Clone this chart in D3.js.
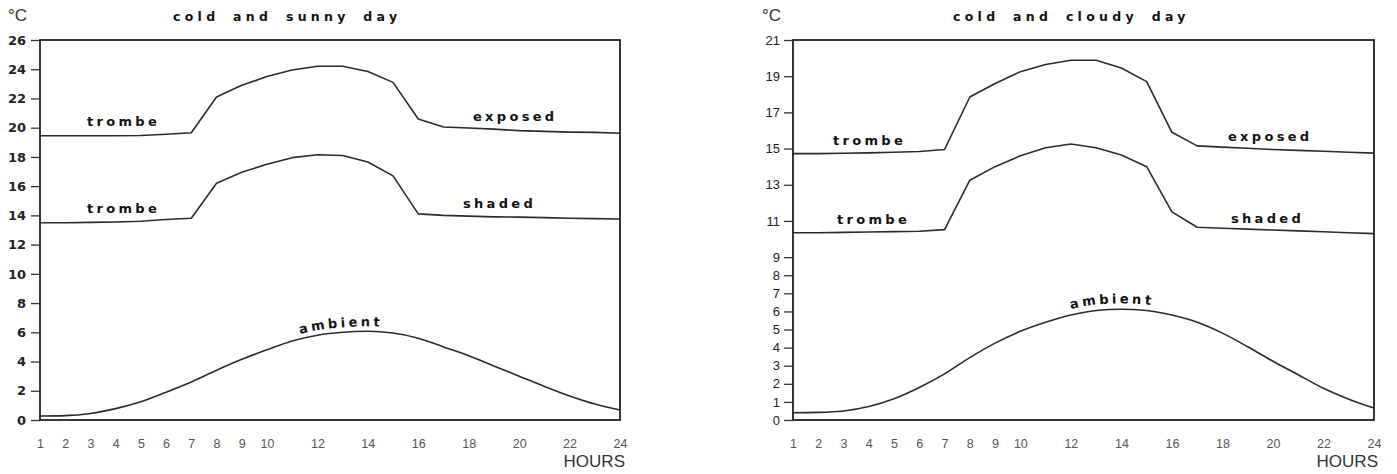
<!DOCTYPE html>
<html lang="en">
<head>
<meta charset="UTF-8">
<title>Trombe wall temperatures</title>
<script src="https://d3js.org/d3.v7.min.js"></script>
<style>
  body { margin: 0; background: #fff; }
  svg text { font-family: "Liberation Sans", Arial, sans-serif; }
  .series { fill: none; stroke: #2b2b2b; stroke-width: 1.6; stroke-linejoin: round; }
  .frame { fill: none; stroke: #222; stroke-width: 1.8; }
  .lbl { font-family: "DejaVu Sans", sans-serif !important; font-weight: bold; font-size: 13px; letter-spacing: 3.3px; fill: #111; }
  .title { font-family: "DejaVu Sans", sans-serif !important; font-weight: bold; font-size: 12.5px; letter-spacing: 4.3px; word-spacing: 5px; fill: #111; }
  .unit { font-size: 17px; fill: #333; }
  .xax text { font-size: 12.5px; fill: #555; }
  .yax line, .xax line { stroke: #333; stroke-width: 1.3; }
</style>
</head>
<body>
<script>
    const width  = 1397;
    const height = 474;

    // hours of the day (x categories) and the labelled ticks
    const hours     = [1,2,3,4,5,6,7,8,9,10,11,12,13,14,15,16,17,18,19,20,21,22,23,24];
    const hourTicks = [1,2,3,4,5,6,7,8,9,10,12,14,16,18,20,22,24];

    // cold and sunny day (°C)
    const sunnyExposed = [19.45,19.45,19.45,19.45,19.47,19.55,19.65,22.1,22.9,23.5,23.95,24.2,24.2,23.85,23.1,20.6,20.05,19.98,19.9,19.8,19.75,19.7,19.68,19.62];
    const sunnyShaded  = [13.5,13.5,13.52,13.55,13.6,13.72,13.8,16.2,16.95,17.5,17.95,18.15,18.1,17.65,16.7,14.1,14.0,13.95,13.9,13.88,13.85,13.8,13.78,13.75];
    const sunnyAmbient = [0.27,0.3,0.45,0.78,1.25,1.9,2.6,3.4,4.15,4.8,5.4,5.8,6.0,6.07,5.95,5.6,5.0,4.4,3.7,3.0,2.3,1.65,1.1,0.68];
    const sunnyYTicks  = [0,2,4,6,8,10,12,14,16,18,20,22,24,26];

    // cold and cloudy day (°C)
    const cloudyExposed = [14.72,14.72,14.74,14.76,14.8,14.84,14.95,17.85,18.6,19.25,19.65,19.88,19.88,19.45,18.7,15.9,15.15,15.08,15.02,14.95,14.9,14.85,14.8,14.75];
    const cloudyShaded  = [10.35,10.35,10.37,10.39,10.41,10.43,10.52,13.25,14.0,14.6,15.05,15.25,15.05,14.65,14.0,11.5,10.65,10.6,10.55,10.5,10.45,10.4,10.35,10.3];
    const cloudyAmbient = [0.4,0.42,0.5,0.75,1.18,1.8,2.55,3.45,4.25,4.9,5.4,5.8,6.05,6.12,6.05,5.8,5.4,4.8,4.05,3.25,2.5,1.75,1.15,0.66];
    const cloudyYTicks  = [0,1,2,3,4,5,6,7,8,9,11,13,15,17,19,21];

    const svg = d3.select("body").append("svg")
        .attr("width", width).attr("height", height);

    function panel(p) {
        const x = d3.scaleLinear().domain([1, 24]).range([p.left, p.right]);
        const y = d3.scaleLinear().domain([0, p.yMax]).range([420, 40]);
        const g = svg.append("g");

        const wall = d3.line()
            .x((d, i) => x(hours[i]))
            .y(d => y(d));
        const air = d3.line()
            .x((d, i) => x(hours[i]))
            .y(d => y(d))
            .curve(d3.curveMonotoneX);

        g.append("path").attr("class", "series").attr("d", wall(p.exposed));
        g.append("path").attr("class", "series").attr("d", wall(p.shaded));
        g.append("path").attr("class", "series").attr("d", air(p.ambient));

        // frame
        g.append("rect").attr("class", "frame")
            .attr("x", p.left).attr("y", 40)
            .attr("width", p.right - p.left).attr("height", 380);

        // y axis
        const yAxis = d3.axisLeft(y).tickValues(p.yTicks).tickSize(p.tickLen)
            .tickPadding(p.tickPad).tickFormat(d3.format("d"));
        const ya = g.append("g").attr("class", "yax")
            .attr("transform", "translate(" + [p.left, 0] + ")")
            .call(yAxis);
        ya.select(".domain").remove();
        ya.selectAll("text")
            .style("font-family", p.yFont)
            .style("font-weight", p.yWeight)
            .style("font-size", p.ySize)
            .attr("fill", "#222");

        // x axis
        const xAxis = d3.axisBottom(x).tickValues(hourTicks).tickSize(0).tickPadding(19);
        const xa = g.append("g").attr("class", "xax")
            .attr("transform", "translate(" + [0, 420] + ")")
            .call(xAxis);
        xa.select(".domain").remove();

        // texts
        g.append("text").attr("class", "unit").attr("x", p.unitX).attr("y", 21).text("°C");
        g.append("text").attr("class", "unit").attr("x", p.hoursX).attr("y", 467)
            .attr("text-anchor", "end").text("HOURS");
        g.append("text").attr("class", "title").attr("x", p.titleX).attr("y", 21)
            .text(p.title);

        p.labels.forEach(l => {
            g.append("text").attr("class", "lbl").attr("x", l[1]).attr("y", l[2]).text(l[0]);
        });

        // curved "ambient" label following the ambient curve
        const id = "amb" + p.key;
        const offLine = d3.line()
            .x(d => x(d[0]))
            .y(d => y(d[1]) - p.ambLift)
            .curve(d3.curveMonotoneX);
        const pts = hours.map((h, i) => [h, p.ambient[i]]).filter(d => d[0] >= p.ambFrom);
        g.append("path").attr("id", id).attr("d", offLine(pts)).attr("fill", "none");
        g.append("text").attr("class", "lbl")
            .append("textPath").attr("href", "#" + id)
            .attr("startOffset", p.ambOffset)
            .text("ambient");
    }

    panel({
        key: "s", left: 40, right: 620, yMax: 26, yTicks: sunnyYTicks,
        exposed: sunnyExposed, shaded: sunnyShaded, ambient: sunnyAmbient,
        tickLen: 9, tickPad: 5, yFont: "DejaVu Sans", yWeight: "bold", ySize: "13px",
        unitX: 8, hoursX: 625, titleX: 173, title: "cold and sunny day",
        labels: [["trombe", 87, 126], ["trombe", 87, 213], ["exposed", 473, 121], ["shaded", 463, 208]],
        ambFrom: 11, ambLift: 5, ambOffset: 8
    });

    panel({
        key: "c", left: 793, right: 1374, yMax: 21, yTicks: cloudyYTicks,
        exposed: cloudyExposed, shaded: cloudyShaded, ambient: cloudyAmbient,
        tickLen: 9, tickPad: 4, yFont: "Liberation Sans", yWeight: "normal", ySize: "13px",
        unitX: 762, hoursX: 1378, titleX: 953, title: "cold and cloudy day",
        labels: [["trombe", 833, 145], ["trombe", 837, 224], ["exposed", 1228, 141], ["shaded", 1231, 223]],
        ambFrom: 12, ambLift: 6, ambOffset: 0
    });
</script>
</body>
</html>
